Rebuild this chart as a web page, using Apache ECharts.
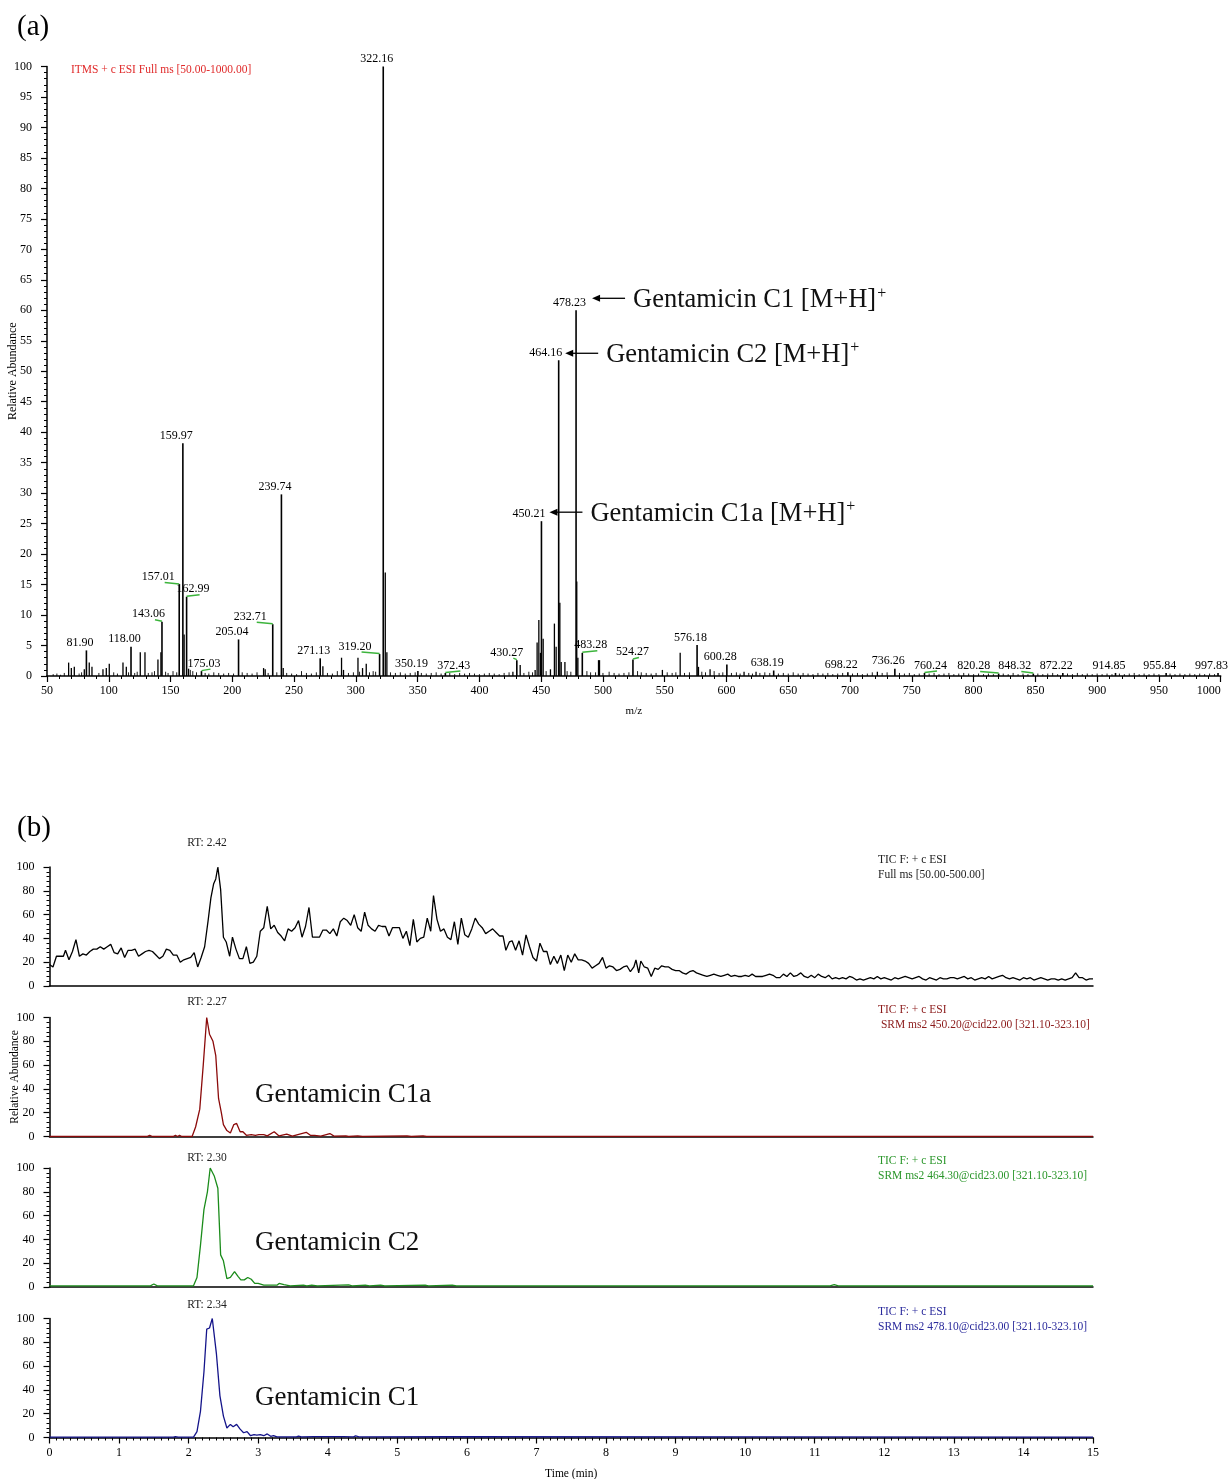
<!DOCTYPE html>
<html><head><meta charset="utf-8">
<script src="https://cdn.jsdelivr.net/npm/echarts@6/dist/echarts.min.js"></script>
<style>html,body{margin:0;padding:0;background:#fff}#c{width:1228px;height:1479px}</style>
</head><body><div id="c"></div>
<script>
// ---------------- Panel (a): ESI full-scan mass spectrum ----------------
const labeledMz  = [81.90,118.00,143.06,157.01,159.97,162.99,175.03,205.04,232.71,239.74,271.13,319.20,322.16,350.19,372.43,430.27,450.21,464.16,478.23,483.28,524.27,576.18,600.28,638.19,698.22,736.26,760.24,820.28,848.32,872.22,914.85,955.84,997.83];
const labeledInt = [4.2,4.8,8.9,15.0,38.2,13.0,0.8,6.0,8.5,29.8,2.9,3.6,100,0.8,0.5,2.6,25.4,51.8,60.0,3.8,2.7,5.1,1.9,0.9,0.6,1.2,0.5,0.4,0.4,0.5,0.5,0.5,0.5];
const peakLabels = ['81.90','118.00','143.06','157.01','159.97','162.99','175.03','205.04','232.71','239.74','271.13','319.20','322.16','350.19','372.43','430.27','450.21','464.16','478.23','483.28','524.27','576.18','600.28','638.19','698.22','736.26','760.24','820.28','848.32','872.22','914.85','955.84','997.83'];

const minorMz  = [67.5,69.7,72.1,80.2,84.2,86.4,95.3,98.0,100.4,111.5,114.2,125.5,129.3,139.8,142.2,161.0,164.6,225.3,226.6,241.2,273.3,288.4,290.0,301.7,305.4,308.4,323.8,325.1,427.1,433.0,445.1,446.7,448.1,449.4,451.6,457.5,460.7,462.1,465.1,466.2,469.2,478.8,479.7,496.4,497.2,548.1,562.5,577.3,586.7,614.2,623.9,722.1];
const minorInt = [2.2,1.3,1.5,1.1,2.2,1.5,1.1,1.3,2.0,2.2,1.5,3.9,3.9,2.7,3.9,6.8,1.2,1.3,1.1,1.3,1.6,3.0,1.0,3.0,1.3,2.0,17.0,3.9,0.7,1.8,1.0,5.5,9.2,3.8,6.1,1.1,8.6,4.8,12.0,2.3,2.3,15.5,3.0,2.6,2.6,1.0,3.8,1.5,1.1,0.7,0.7,0.7];

const noiseMz  = [55,58,61,64,76,78,92,104,107,116,121,123,132,135,137,146,148,152,155,166,168,171,178,181,185,189,193,197,201,208,212,216,220,229,236,244,248,252,256,260,264,268,277,281,285,294,298,303,311,314,316,328,332,336,340,344,348,353,357,361,365,369,376,380,384,388,392,396,400,404,408,412,416,420,424,436,440,443,454,471,474,487,490,494,500,505,509,513,517,521,528,531,535,539,543,552,556,559,566,570,580,583,590,594,597,604,608,611,618,621,627,631,635,642,646,650,654,658,662,666,670,674,678,682,686,690,694,702,706,710,714,718,726,730,740,744,748,752,756,764,768,772,776,780,784,788,792,796,800,804,808,812,816,824,828,832,836,840,844,852,856,860,864,868,876,880,884,888,892,896,900,904,908,912,918,922,926,930,934,938,942,946,950,959,963,967,971,975,979,983,987,991,995];
const noiseInt = [0.3,0.4,0.2,0.5,0.4,0.6,0.5,0.6,0.4,0.6,0.5,0.7,0.5,0.6,0.8,0.7,0.5,0.8,0.6,1.0,0.8,0.6,0.5,0.4,0.6,0.5,0.4,0.5,0.4,0.6,0.5,0.4,0.6,0.5,0.6,0.5,0.4,0.3,0.8,0.5,0.4,0.6,0.5,0.4,0.8,0.5,0.6,0.7,0.6,0.8,0.7,0.6,0.5,0.6,0.4,0.5,0.6,0.5,0.4,0.5,0.6,0.4,0.5,0.3,0.5,0.4,0.5,0.4,0.3,0.4,0.5,0.4,0.3,0.5,0.6,0.5,0.7,0.6,0.8,0.8,0.7,0.8,0.6,0.6,0.5,0.7,0.5,0.4,0.5,0.6,0.8,0.6,0.5,0.4,0.5,0.6,0.5,0.6,0.5,0.6,0.7,0.6,0.8,0.5,0.6,0.5,0.6,0.4,0.5,0.4,0.5,0.6,0.5,0.4,0.5,0.4,0.6,0.4,0.5,0.4,0.3,0.5,0.4,0.5,0.3,0.4,0.5,0.4,0.5,0.3,0.4,0.6,0.5,0.6,0.5,0.4,0.5,0.3,0.4,0.4,0.5,0.3,0.4,0.5,0.3,0.4,0.5,0.4,0.3,0.4,0.3,0.4,0.3,0.4,0.3,0.5,0.3,0.4,0.3,0.4,0.3,0.4,0.5,0.3,0.4,0.3,0.5,0.3,0.4,0.3,0.4,0.3,0.4,0.3,0.4,0.3,0.4,0.5,0.3,0.4,0.3,0.4,0.3,0.4,0.3,0.4,0.3,0.4,0.3,0.4,0.3,0.4,0.3];

const xTicksA = {min:50, max:1000, step:50};
const yTicksA = {min:0, max:100, step:5};

// ---------------- Panel (b): chromatograms ----------------
const ticData = [[0.00,18],[0.05,16],[0.10,25],[0.15,25],[0.20,25],[0.23,30],[0.28,22],[0.33,29],[0.38,39],[0.43,25],[0.48,27],[0.53,26],[0.58,29],[0.63,31],[0.68,31],[0.73,33],[0.78,31],[0.83,33],[0.88,35],[0.93,28],[0.98,27],[1.03,32],[1.08,24],[1.13,30],[1.18,30],[1.23,31],[1.28,25],[1.33,27],[1.38,29],[1.43,30],[1.48,29],[1.53,26],[1.58,23],[1.63,25],[1.68,31],[1.73,30],[1.78,26],[1.83,26],[1.88,20],[1.93,22],[1.98,23],[2.03,24],[2.08,28],[2.13,16],[2.18,24],[2.23,33],[2.28,55],[2.32,74],[2.36,86],[2.39,90],[2.42,100],[2.46,81],[2.50,41],[2.54,37],[2.59,25],[2.63,41],[2.68,31],[2.73,23],[2.78,23],[2.83,33],[2.88,19],[2.93,20],[2.98,25],[3.03,46],[3.08,49],[3.13,67],[3.18,48],[3.23,51],[3.28,45],[3.33,42],[3.38,38],[3.43,48],[3.48,46],[3.53,49],[3.58,55],[3.63,41],[3.68,50],[3.73,66],[3.78,41],[3.83,41],[3.88,41],[3.93,47],[3.98,47],[4.03,44],[4.08,48],[4.13,42],[4.18,54],[4.23,57],[4.28,55],[4.33,51],[4.38,60],[4.43,49],[4.48,46],[4.53,62],[4.58,51],[4.63,48],[4.68,46],[4.73,51],[4.78,50],[4.83,50],[4.88,42],[4.93,49],[4.98,49],[5.03,49],[5.08,40],[5.13,46],[5.18,34],[5.23,56],[5.28,37],[5.33,40],[5.38,41],[5.43,57],[5.48,46],[5.52,76],[5.57,56],[5.62,46],[5.67,48],[5.72,41],[5.77,39],[5.82,54],[5.87,35],[5.92,57],[5.97,43],[6.02,41],[6.07,48],[6.12,57],[6.17,52],[6.22,49],[6.27,44],[6.32,46],[6.37,48],[6.42,45],[6.47,42],[6.52,42],[6.56,30],[6.61,37],[6.65,38],[6.70,30],[6.75,38],[6.80,26],[6.85,43],[6.90,33],[6.95,24],[7.00,21],[7.05,36],[7.10,29],[7.15,29],[7.20,18],[7.25,25],[7.30,19],[7.35,26],[7.40,13],[7.45,26],[7.50,20],[7.55,27],[7.60,22],[7.65,22],[7.70,21],[7.75,19],[7.80,15],[7.85,17],[7.90,19],[7.95,24],[8.00,15],[8.05,17],[8.10,16],[8.15,13],[8.20,14],[8.25,16],[8.30,17],[8.35,12],[8.40,16],[8.43,22],[8.47,11],[8.50,21],[8.55,16],[8.60,15],[8.65,8],[8.70,15],[8.75,14],[8.80,17],[8.85,16],[8.90,16],[8.95,14],[9.00,13],[9.05,13],[9.10,11],[9.15,10],[9.20,12],[9.25,13],[9.30,11],[9.35,10],[9.40,9],[9.45,8],[9.50,9],[9.55,10],[9.60,9],[9.65,8],[9.70,9],[9.75,10],[9.80,8],[9.85,9],[9.90,8],[9.95,8],[10.00,9],[10.05,8],[10.10,10],[10.15,8],[10.20,8],[10.25,8],[10.30,9],[10.35,10],[10.40,9],[10.45,7],[10.50,7],[10.55,10],[10.60,8],[10.65,11],[10.70,8],[10.75,9],[10.80,11],[10.85,8],[10.90,7],[10.95,9],[11.00,7],[11.05,10],[11.10,8],[11.15,7],[11.20,9],[11.25,6],[11.30,7],[11.35,6],[11.40,7],[11.45,6],[11.50,8],[11.55,7],[11.60,5],[11.65,6],[11.70,5],[11.75,6],[11.80,7],[11.85,6],[11.90,8],[11.95,6],[12.00,7],[12.05,6],[12.10,5],[12.15,7],[12.20,6],[12.25,7],[12.30,8],[12.35,7],[12.40,6],[12.45,7],[12.50,8],[12.55,6],[12.60,5],[12.65,7],[12.70,6],[12.75,5],[12.80,7],[12.85,6],[12.90,6],[12.95,7],[13.00,7],[13.05,6],[13.10,7],[13.15,8],[13.20,6],[13.25,7],[13.30,5],[13.35,6],[13.40,7],[13.45,6],[13.50,8],[13.55,6],[13.60,7],[13.65,8],[13.70,9],[13.75,7],[13.80,6],[13.85,7],[13.90,6],[13.95,5],[14.00,7],[14.05,6],[14.10,7],[14.15,5],[14.20,6],[14.25,7],[14.30,6],[14.35,5],[14.40,6],[14.45,6],[14.50,5],[14.55,6],[14.60,5],[14.65,6],[14.70,7],[14.75,11],[14.80,7],[14.85,7],[14.90,5],[14.95,6],[15.00,6]];

const c1aData = [[0,0],[1.40,0],[1.44,1],[1.48,0],[1.78,0],[1.81,1],[1.84,0],[1.87,1],[1.90,0],[2.05,0],[2.10,8],[2.16,23],[2.21,60],[2.26,100],[2.30,86],[2.35,80],[2.39,68],[2.43,32],[2.47,20],[2.50,10],[2.55,5],[2.60,3],[2.65,10],[2.69,11],[2.74,4],[2.78,4],[2.83,1],[2.90,1.5],[2.96,1],[3.01,1.5],[3.08,1.5],[3.13,0.5],[3.23,4],[3.30,0.5],[3.41,2],[3.49,0.3],[3.69,3.5],[3.75,1],[3.81,1],[3.90,0.3],[4.03,2.5],[4.09,0.3],[4.26,0.5],[4.30,0],[4.43,0.5],[4.50,0],[5.14,0.5],[5.20,0],[5.37,0.5],[5.42,0],[15,0]];

const c2Data = [[0,1],[1.45,1],[1.50,2.5],[1.55,1],[2.07,1],[2.12,8],[2.17,35],[2.22,65],[2.27,80],[2.31,100],[2.37,93],[2.42,83],[2.46,27],[2.50,22],[2.55,7],[2.60,8],[2.66,13],[2.71,9],[2.75,6],[2.80,6],[2.85,8],[2.90,6.5],[2.95,3],[3.00,3],[3.08,1.5],[3.18,1.5],[3.27,1.5],[3.30,3],[3.37,2],[3.46,1],[3.65,1.5],[3.70,1],[3.77,1.5],[3.85,1],[4.30,1.8],[4.35,1],[4.54,1.5],[4.60,1],[4.76,1.5],[4.82,1],[5.40,1.5],[5.45,1],[5.79,1.5],[5.85,1],[11.22,1],[11.28,2],[11.34,1],[15,1]];

const c1Data = [[0,0.3],[1.78,0.3],[1.81,0.8],[1.85,0.3],[2.07,0.3],[2.12,5],[2.17,22],[2.22,55],[2.26,91],[2.30,92],[2.34,100],[2.40,70],[2.45,35],[2.50,18],[2.55,8],[2.60,11],[2.64,9],[2.69,11],[2.74,7],[2.79,4],[2.84,5],[2.89,1.5],[2.94,2.5],[2.98,2],[3.03,2.5],[3.08,1.5],[3.13,3],[3.18,1],[3.22,1.5],[3.27,0.5],[3.55,0.5],[3.58,1.2],[3.62,0.5],[3.80,0.8],[3.94,0.8],[4.23,0.8],[4.37,0.5],[4.40,1.3],[4.45,0.5],[5.79,0.8],[15,0.3]];

const rtLabels = ['RT: 2.42','RT: 2.27','RT: 2.30','RT: 2.34'];
const traceNames = ['', 'Gentamicin C1a', 'Gentamicin C2', 'Gentamicin C1'];
const scanLine1 = ['TIC F: + c ESI','TIC F: + c ESI','TIC F: + c ESI','TIC F: + c ESI'];
const scanLine2 = ['Full ms [50.00-500.00]',' SRM ms2 450.20@cid22.00 [321.10-323.10]','SRM ms2 464.30@cid23.00 [321.10-323.10]','SRM ms2 478.10@cid23.00 [321.10-323.10]'];
const annoTexts = ['Gentamicin C1 [M+H]','Gentamicin C2 [M+H]','Gentamicin C1a [M+H]'];
const annoPeaks = [[478.23,60.0],[464.16,51.8],[450.21,25.4]];

// ---------------- layout / style ----------------
const FF = '"Liberation Serif","Times New Roman",serif';
const traceColors = ['#000000','#8b0a0a','#1b8c1b','#14148a'];
const textColors  = ['#222222','#8b1a1a','#2a962a','#2a2a9c'];
const labelNudge = {'143.06':-7,'157.01':-14.5,'162.99':13,'175.03':9,'232.71':-16,'319.20':-18,'372.43':15,'430.27':-3.5,'483.28':15,'524.27':6,'760.24':12.5,'820.28':-18.5,'848.32':-12,'450.21':-6,'464.16':-6.5};
const noLeader = {'450.21':1,'464.16':1};

const chart = echarts.init(document.getElementById('c'), null, {renderer:'canvas'});

function stickRenderer(w){
  return function(params, api){
    const x = api.value(0), y = api.value(1);
    const a = api.coord([x,0]), b = api.coord([x,y]);
    return {type:'line', shape:{x1:a[0],y1:a[1],x2:b[0],y2:b[1]}, style:{stroke:'#000', lineWidth:w}};
  };
}
function toPairs(xs, ys){ return xs.map((v,i)=>[v, ys[i]]); }
const plain = v => String(v);

const axLine = {show:true, onZero:false, lineStyle:{color:'#000', width:1.5}};
const bGrids = [867, 1017.5, 1168, 1318.5];

const grid = [{left:47, top:66.5, width:1173.7, height:609.5, containLabel:false, outerBoundsMode:'none'}].concat(
  bGrids.map(t=>({left:49.5, top:t, width:1043.5, height:119, containLabel:false, outerBoundsMode:'none'}))
);

const xAxis = [{
  type:'value', gridIndex:0, min:xTicksA.min, max:xTicksA.max, interval:xTicksA.step,
  axisLine:axLine, splitLine:{show:false},
  axisTick:{show:true, length:6, lineStyle:{color:'#000', width:1.2}},
  minorTick:{show:true, splitNumber:5, length:3, lineStyle:{color:'#000', width:1}},
  axisLabel:{color:'#000', fontSize:12, fontFamily:FF, margin:9, formatter:plain, hideOverlap:false, alignMaxLabel:'right'},
  name:'m/z', nameLocation:'middle', nameGap:30, nameMoveOverlap:false, nameTextStyle:{color:'#000', fontSize:11, fontFamily:FF}
}];
for (let i=0;i<4;i++){
  const last = i===3;
  xAxis.push({
    type:'value', gridIndex:i+1, min:0, max:15, interval:1,
    axisLine:axLine, splitLine:{show:false},
    axisTick:{show:last, length:6, lineStyle:{color:'#000', width:1.2}},
    minorTick:{show:last, splitNumber:10, length:3, lineStyle:{color:'#000', width:1}},
    axisLabel:{show:last, color:'#000', fontSize:12, fontFamily:FF, margin:9, formatter:plain},
    name: last ? 'Time (min)' : '', nameLocation:'middle', nameGap:30, nameMoveOverlap:false,
    nameTextStyle:{color:'#000', fontSize:11.5, fontFamily:FF}
  });
}
const yAxis = [{
  type:'value', gridIndex:0, min:yTicksA.min, max:yTicksA.max, interval:yTicksA.step,
  axisLine:axLine, splitLine:{show:false},
  axisTick:{show:true, length:6, lineStyle:{color:'#000', width:1.2}},
  minorTick:{show:true, splitNumber:5, length:3, lineStyle:{color:'#000', width:1}},
  axisLabel:{color:'#000', fontSize:12, fontFamily:FF, margin:15, formatter:plain},
  name:'Relative Abundance', nameLocation:'middle', nameGap:28, nameRotate:90, nameMoveOverlap:false,
  nameTextStyle:{color:'#000', fontSize:12, fontFamily:FF}
}];
for (let i=0;i<4;i++){
  yAxis.push({
    type:'value', gridIndex:i+1, min:0, max:100, interval:20,
    axisLine:axLine, splitLine:{show:false},
    axisTick:{show:true, length:6, lineStyle:{color:'#000', width:1.2}},
    minorTick:{show:true, splitNumber:5, length:3, lineStyle:{color:'#000', width:1}},
    axisLabel:{color:'#000', fontSize:12, fontFamily:FF, margin:15, formatter:plain},
    name: i===1 ? 'Relative Abundance' : '', nameLocation:'middle', nameGap:29, nameRotate:90, nameMoveOverlap:false,
    nameTextStyle:{color:'#000', fontSize:11.5, fontFamily:FF}
  });
}

const series = [
  {type:'custom', xAxisIndex:0, yAxisIndex:0, renderItem:stickRenderer(0.9), data:toPairs(noiseMz, noiseInt), encode:{x:0,y:1}, z:3},
  {type:'custom', xAxisIndex:0, yAxisIndex:0, renderItem:stickRenderer(1.3), data:toPairs(minorMz, minorInt), encode:{x:0,y:1}, z:4},
  {type:'custom', xAxisIndex:0, yAxisIndex:0, renderItem:stickRenderer(1.6), data:toPairs(labeledMz, labeledInt), encode:{x:0,y:1}, z:5},
  {type:'custom', xAxisIndex:0, yAxisIndex:0, clip:false, z:6, encode:{x:0,y:1},
    data:toPairs(labeledMz, labeledInt),
    renderItem:function(params, api){
      const txt = peakLabels[params.dataIndex];
      const p = api.coord([api.value(0), api.value(1)]);
      const nudge = labelNudge[txt] || 0;
      const ax = p[0] + nudge;
      const children = [{type:'text', style:{text:txt, x:ax-6.5, y:p[1]-1.5, align:'center', verticalAlign:'bottom', fontSize:12, fontFamily:FF, fill:'#000'}}];
      if (nudge && !noLeader[txt]) {
        children.push({type:'line', shape:{x1:p[0], y1:p[1]-0.5, x2:ax, y2:p[1]-2}, style:{stroke:'#3cb43c', lineWidth:1.5}});
      }
      return {type:'group', children};
    }
  }
];
[ticData, c1aData, c2Data, c1Data].forEach((d,i)=>{
  series.push({type:'line', xAxisIndex:i+1, yAxisIndex:i+1, data:d, symbol:'none', smooth:false,
    lineStyle:{color:traceColors[i], width:1.3}, z:5});
});

const graphic = [
  {type:'text', x:17, y:27, style:{text:'(a)', fontSize:29, fontFamily:FF, fill:'#000', verticalAlign:'middle'}},
  {type:'text', x:17, y:828, style:{text:'(b)', fontSize:29, fontFamily:FF, fill:'#000', verticalAlign:'middle'}},
  {type:'text', x:71, y:70, style:{text:'ITMS + c ESI Full ms [50.00-1000.00]', fontSize:11.5, fontFamily:FF, fill:'#e02a2a', verticalAlign:'middle'}}
];
const rtY = [843, 1002, 1158, 1305];
const scanY = [860, 1010, 1161, 1312];
const nameY = [0, 1095, 1243, 1398];
for (let i=0;i<4;i++){
  graphic.push({type:'text', x:207, y:rtY[i], style:{text:rtLabels[i], fontSize:11.5, fontFamily:FF, fill:'#222', align:'center', verticalAlign:'middle'}});
  graphic.push({type:'text', x:878, y:scanY[i], style:{text:scanLine1[i], fontSize:11.5, fontFamily:FF, fill:textColors[i], verticalAlign:'middle'}});
  graphic.push({type:'text', x:878, y:scanY[i]+14.5, style:{text:scanLine2[i], fontSize:11.5, fontFamily:FF, fill:textColors[i], verticalAlign:'middle'}});
  if (traceNames[i]) graphic.push({type:'text', x:255, y:nameY[i], style:{text:traceNames[i], fontSize:27, fontFamily:FF, fill:'#111', verticalAlign:'middle'}});
}

chart.setOption({
  animation:false,
  backgroundColor:'#fff',
  textStyle:{fontFamily:FF},
  grid, xAxis, yAxis, series, graphic
});

// arrow annotations anchored on the peaks
const ctx = document.createElement('canvas').getContext('2d');
ctx.font = '26.5px "Liberation Serif"';
const annoOffsets = [[16,-12],[6.5,-7],[8,-9]];
const extra = [];
annoPeaks.forEach((pk,i)=>{
  const p = chart.convertToPixel({xAxisIndex:0, yAxisIndex:0}, pk);
  const tipX = p[0] + annoOffsets[i][0], y = p[1] + annoOffsets[i][1];
  const tailX = tipX + 33;
  extra.push({type:'line', shape:{x1:tipX+6, y1:y, x2:tailX, y2:y}, style:{stroke:'#000', lineWidth:1.3}});
  extra.push({type:'polygon', shape:{points:[[tipX,y],[tipX+8,y-3.5],[tipX+8,y+3.5]]}, style:{fill:'#000'}});
  const tx = tailX + 8;
  const w = ctx.measureText(annoTexts[i]).width;
  extra.push({type:'text', x:tx, y:y+2, style:{text:annoTexts[i], fontSize:26.5, fontFamily:FF, fill:'#111', verticalAlign:'middle'}});
  extra.push({type:'text', x:tx+w+1, y:y-5, style:{text:'+', fontSize:16, fontFamily:FF, fill:'#111', verticalAlign:'middle'}});
});
chart.setOption({graphic: graphic.concat(extra)});
</script>
</body></html>
